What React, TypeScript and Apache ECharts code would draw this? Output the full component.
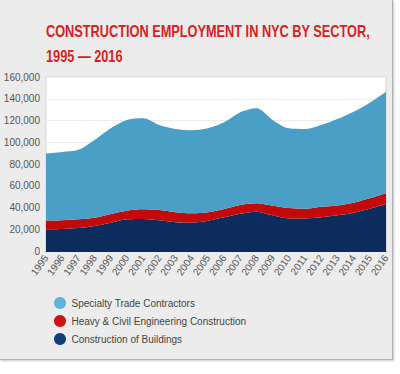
import React, { useEffect, useRef } from "react";
import * as echarts from "echarts";

const years = ["1995","1996","1997","1998","1999","2000","2001","2002","2003","2004","2005","2006","2007","2008","2009","2010","2011","2012","2013","2014","2015","2016"];
const buildings = [20000,20300,21100,23000,26000,29100,29400,28200,26400,26000,27900,31000,34300,36200,32800,30000,30000,31000,32800,35200,38900,43200];
const heavyCivil = [7900,7900,8000,7600,8000,8000,8900,9500,9200,8600,7700,7600,8000,7600,8900,9500,8900,9700,9100,9200,9500,9800];
const specialty = [61600,62800,63900,71400,78800,83400,83700,78200,76600,76400,77200,79700,85200,87400,78800,73300,73300,75200,79500,83700,88000,93500];
const seriesNames = ["Construction of Buildings", "Heavy & Civil Engineering Construction", "Specialty Trade Contractors"];
const titleText = "CONSTRUCTION EMPLOYMENT IN NYC BY SECTOR,\n1995 \u2014 2016";

export default function App() {
  const ref = useRef<HTMLDivElement>(null);
  useEffect(() => {
    document.body.style.margin = "0";
    const chart = echarts.init(ref.current!, null, { renderer: "svg" });
    const font = "'Liberation Sans', Arial, sans-serif";
    const areaColors = ["#0b2c5c", "#c20a0a", "#4a9fc7"];
    const legendColors = ["#123f78", "#d01212", "#5db4d8"];
    const datasets = [buildings, heavyCivil, specialty];
    chart.setOption({
      animation: false,
      backgroundColor: "transparent",
      graphic: [
        {
          type: "text",
          x: 46,
          y: 18,
          scaleX: 0.75,
          style: {
            text: titleText,
            fill: "#d9211f",
            font: "bold 17px " + font,
            lineHeight: 25,
            verticalAlign: "top",
          },
        },
      ],
      grid: {
        left: 46,
        right: 14,
        top: 77,
        bottom: 123,
        show: true,
        backgroundColor: "#ffffff",
        borderColor: "#d6d6d6",
        borderWidth: 1,
      },
      legend: {
        orient: "vertical",
        left: 49,
        top: 292,
        icon: "circle",
        itemWidth: 13,
        itemHeight: 12,
        itemGap: 6,
        textStyle: { fontFamily: font, fontSize: 10, color: "#444" },
        data: [
          { name: seriesNames[2], itemStyle: { color: legendColors[2] } },
          { name: seriesNames[1], itemStyle: { color: legendColors[1] } },
          { name: seriesNames[0], itemStyle: { color: legendColors[0] } },
        ],
      },
      xAxis: {
        type: "category",
        data: years,
        boundaryGap: false,
        axisLine: { show: true, lineStyle: { color: "#0b2c5c" } },
        axisTick: { show: false },
        axisLabel: { rotate: 55, fontFamily: font, fontSize: 10, color: "#555", margin: 5, interval: 0 },
      },
      yAxis: {
        type: "value",
        min: 0,
        max: 160000,
        interval: 20000,
        axisLine: { show: false },
        axisTick: { show: false },
        splitLine: { lineStyle: { color: "#ececec" } },
        axisLabel: {
          fontFamily: font,
          fontSize: 10,
          color: "#555",
          margin: 6,
          formatter: (v: number) => v.toLocaleString("en-US"),
        },
      },
      series: datasets.map((d, i) => ({
        name: seriesNames[i],
        type: "line",
        stack: "total",
        data: d,
        smooth: 0.3,
        symbol: "none",
        lineStyle: { width: 0 },
        itemStyle: { color: legendColors[i] },
        areaStyle: { color: areaColors[i], opacity: 1 },
      })),
    });
    return () => chart.dispose();
  }, []);
  return (
    <div style={{ position: "relative", width: 400, height: 374, background: "#fff" }}>
      <div
        style={{
          position: "absolute",
          left: 0,
          top: 0,
          width: 392,
          height: 359,
          background: "#ececec",
          borderRight: "1px solid #b0b0b0",
          borderBottom: "1px solid #b0b0b0",
          boxShadow: "1px 1px 2px #c8c8c8",
        }}
      />
      <div ref={ref} style={{ position: "absolute", left: 0, top: 0, width: 400, height: 374 }} />
    </div>
  );
}
